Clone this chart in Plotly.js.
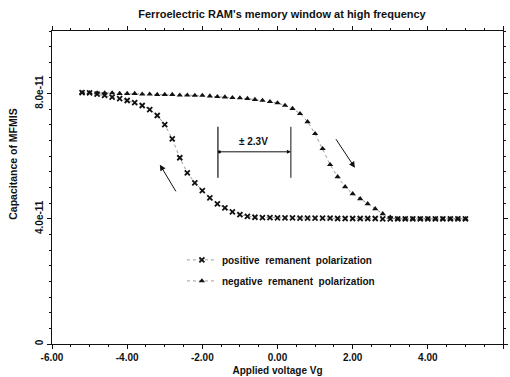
<!DOCTYPE html>
<html>
<head>
<meta charset="utf-8">
<script src="https://cdn.plot.ly/plotly-3.0.1.min.js"></script>
<style>html,body{margin:0;padding:0;background:#fff;}#chart{width:510px;height:377px;}</style>
</head>
<body>
<div id="chart"></div>
<script>
// Applied voltage Vg (V)
const voltage = [-5.2,-5.0,-4.8,-4.6,-4.4,-4.2,-4.0,-3.8,-3.6,-3.4,-3.2,-3.0,-2.8,-2.6,-2.4,-2.2,-2.0,-1.8,-1.6,-1.4,-1.2,-1.0,-0.8,-0.6,-0.4,-0.2,0.0,0.2,0.4,0.6,0.8,1.0,1.2,1.4,1.6,1.8,2.0,2.2,2.4,2.6,2.8,3.0,3.2,3.4,3.6,3.8,4.0,4.2,4.4,4.6,4.8,5.0];

// Capacitance of MFMIS (F), positive remanent polarization
const capPositive = [8.03e-11,8.02e-11,7.98e-11,7.94e-11,7.89e-11,7.84e-11,7.78e-11,7.71e-11,7.62e-11,7.49e-11,7.30e-11,7.01e-11,6.55e-11,5.95e-11,5.47e-11,5.15e-11,4.90e-11,4.67e-11,4.48e-11,4.35e-11,4.22e-11,4.13e-11,4.08e-11,4.05e-11,4.04e-11,4.04e-11,4.03e-11,4.03e-11,4.03e-11,4.02e-11,4.02e-11,4.02e-11,4.02e-11,4.02e-11,4.01e-11,4.01e-11,4.01e-11,4.01e-11,4.01e-11,4.01e-11,4.00e-11,4.00e-11,4.00e-11,4.00e-11,4.00e-11,4.00e-11,4.00e-11,4.00e-11,4.00e-11,4.00e-11,4.00e-11,4.00e-11];

// Capacitance of MFMIS (F), negative remanent polarization
const capNegative = [8.03e-11,8.03e-11,8.02e-11,8.02e-11,8.02e-11,8.00e-11,8.00e-11,8.00e-11,7.98e-11,7.98e-11,7.97e-11,7.97e-11,7.97e-11,7.95e-11,7.95e-11,7.94e-11,7.94e-11,7.92e-11,7.90e-11,7.89e-11,7.87e-11,7.86e-11,7.84e-11,7.81e-11,7.78e-11,7.74e-11,7.70e-11,7.62e-11,7.52e-11,7.36e-11,7.10e-11,6.72e-11,6.24e-11,5.73e-11,5.34e-11,5.02e-11,4.80e-11,4.64e-11,4.48e-11,4.32e-11,4.16e-11,4.05e-11,4.00e-11,4.00e-11,4.00e-11,4.00e-11,4.00e-11,4.00e-11,4.00e-11,4.00e-11,4.00e-11,4.00e-11];

const seriesNames = ["positive  remanent  polarization", "negative  remanent  polarization"];

const xTickVals = [-6,-4,-2,0,2,4,6];
const xTickText = ["-6.00","-4.00","-2.00","0.00","2.00","4.00","6.00"];
const yTickVals = [0,4e-11,8e-11];
const yTickText = ["0","4.0e-11","8.0e-11"];

// memory window annotation (V, F)
const windowLeft = -1.585, windowRight = 0.356;
const windowLineLow = 5.31e-11, windowLineHigh = 6.94e-11, windowArrowY = 6.14e-11;
const windowLabel = "± 2.3V";

const FONT = "Liberation Sans, Arial, sans-serif";
const INK = "#111";

const traces = [
  {x: voltage, y: capPositive, name: seriesNames[0], mode: "lines+markers",
   line: {color: "#555", width: 0.6, dash: "dot"},
   marker: {symbol: "x-thin-open", size: 5, color: INK, line: {color: INK, width: 1.8}},
   legendgroup: "a"},
  {x: voltage, y: capNegative, name: seriesNames[1], mode: "lines+markers",
   line: {color: "#555", width: 0.6, dash: "dot"},
   marker: {symbol: "triangle-up", size: 5.5, color: INK},
   legendgroup: "b"}
];

const axisCommon = {
  showline: true, linecolor: INK, linewidth: 1, mirror: "allticks",
  ticks: "outside", ticklen: 4, tickcolor: INK, tickwidth: 1,
  showgrid: false, zeroline: false,
  tickfont: {family: FONT, size: 10, color: INK, weight: "bold"}
};

const layout = {
  width: 510, height: 377,
  margin: {l: 52, r: 7, t: 31, b: 33},
  paper_bgcolor: "#fff", plot_bgcolor: "#fff",
  font: {family: FONT, color: INK},
  title: {text: "Ferroelectric RAM's memory window at high frequency",
          font: {family: FONT, size: 11, color: INK, weight: "bold"},
          x: 0.553, xanchor: "center", y: 0.963, yanchor: "middle"},
  xaxis: Object.assign({}, axisCommon, {
    range: [-6, 6], tickvals: xTickVals, ticktext: xTickText,
    minor: {dtick: 0.5, ticks: "outside", ticklen: 2, tickcolor: INK},
    title: {text: "Applied voltage Vg", font: {family: FONT, size: 10, color: INK, weight: "bold"}, standoff: 4}
  }),
  yaxis: Object.assign({}, axisCommon, {
    range: [0, 1e-10], tickvals: yTickVals, ticktext: yTickText, tickangle: -90,
    minor: {dtick: 0.5e-11, ticks: "outside", ticklen: 2, tickcolor: INK}
  }),
  showlegend: true,
  legend: {x: 0.288, y: 0.315, xanchor: "left", yanchor: "top",
           bgcolor: "rgba(0,0,0,0)", borderwidth: 0,
           font: {family: FONT, size: 10, color: INK, weight: "bold"},
           traceorder: "grouped", tracegroupgap: 2},
  shapes: [
    {type: "line", xref: "x", yref: "y", x0: windowLeft, x1: windowLeft, y0: windowLineLow, y1: windowLineHigh, line: {color: INK, width: 1.2}},
    {type: "line", xref: "x", yref: "y", x0: windowRight, x1: windowRight, y0: windowLineLow, y1: windowLineHigh, line: {color: INK, width: 1}}
  ],
  annotations: [
    {text: "Capacitance of MFMIS", xref: "paper", yref: "paper", x: -0.087, y: 0.575,
     xanchor: "center", yanchor: "middle", textangle: -90,
     showarrow: false, font: {family: FONT, size: 10.5, color: INK, weight: "bold"}},
    {text: windowLabel, xref: "x", yref: "y", x: -0.63, y: 6.46e-11, showarrow: false,
     font: {family: FONT, size: 10, color: INK, weight: "bold"}},
    {text: "", xref: "x", yref: "y", axref: "x", ayref: "y",
     x: windowRight, y: windowArrowY, ax: windowLeft, ay: windowArrowY,
     showarrow: true, arrowhead: 2, arrowsize: 0.8, arrowwidth: 1, arrowcolor: INK,
     arrowside: "end+start", startarrowhead: 6, startarrowsize: 0.8},
    {text: "", xref: "x", yref: "y", axref: "x", ayref: "y",
     x: -3.13, y: 5.73e-11, ax: -2.68, ay: 4.83e-11,
     showarrow: true, arrowhead: 2, arrowsize: 1.2, arrowwidth: 1, arrowcolor: INK},
    {text: "", xref: "x", yref: "y", axref: "x", ayref: "y",
     x: 2.06, y: 5.63e-11, ax: 1.53, ay: 6.59e-11,
     showarrow: true, arrowhead: 2, arrowsize: 1.2, arrowwidth: 1, arrowcolor: INK}
  ]
};

Plotly.newPlot("chart", traces, layout, {displayModeBar: false, staticPlot: true});
</script>
</body>
</html>
